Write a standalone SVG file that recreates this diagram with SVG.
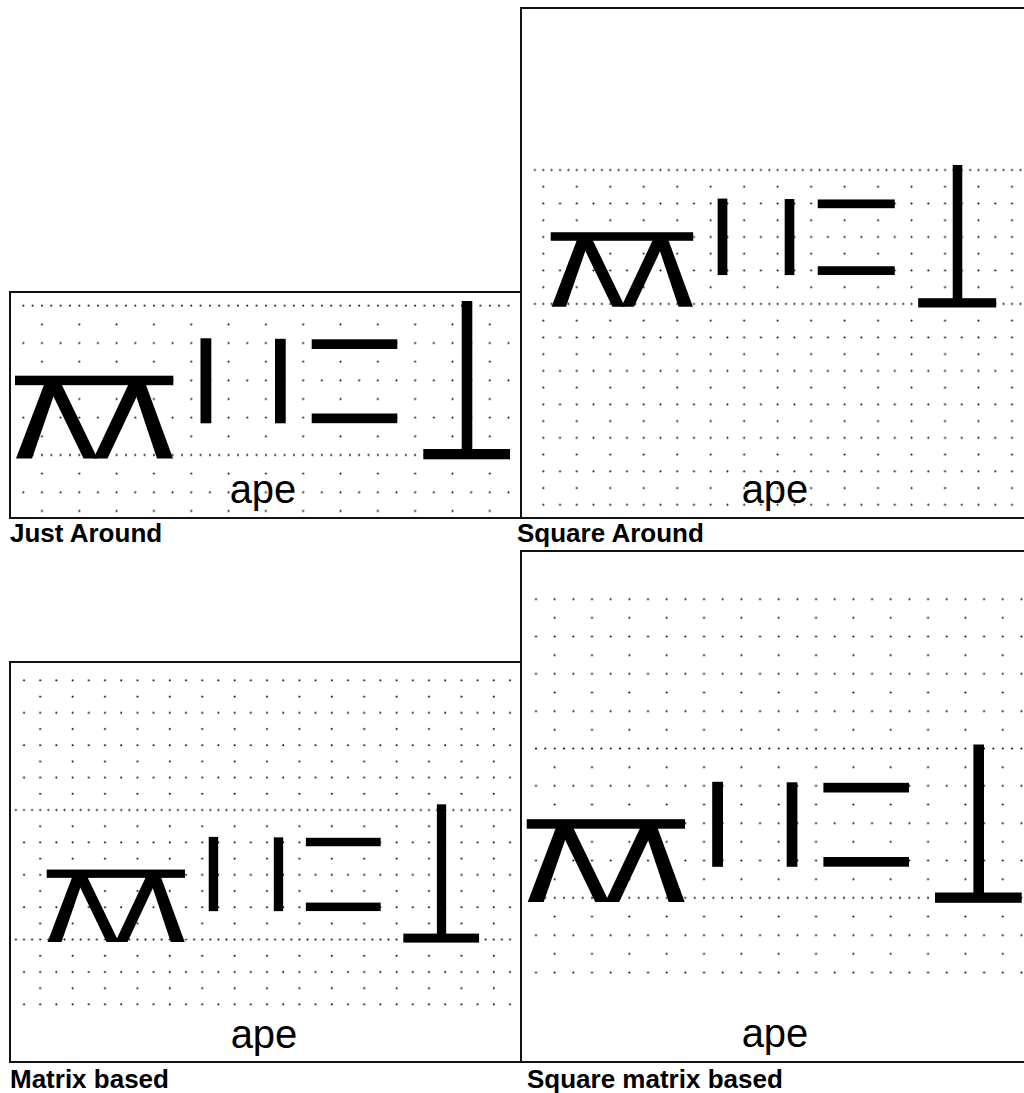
<svg xmlns="http://www.w3.org/2000/svg" xmlns:xlink="http://www.w3.org/1999/xlink" width="1024" height="1093" viewBox="0 0 1024 1093">
<style>
.box{fill:none;stroke:#111;stroke-width:2}
.lbl{font-family:"Liberation Sans",Arial,sans-serif;font-weight:bold;font-size:26px;fill:#000}
.ape{font-family:"Liberation Sans",Arial,sans-serif;font-size:40px;fill:#000;text-anchor:middle}
.dot{fill:#000}
</style>
<defs>
<pattern id="g1" patternUnits="userSpaceOnUse" x="13.97" y="296.37" width="37.32" height="37.32">
<circle class="dot" cx="9.33" cy="9.33" r="1"/><circle class="dot" cx="27.99" cy="9.33" r="1"/><circle class="dot" cx="27.99" cy="27.99" r="1"/>
</pattern>
<pattern id="d1" patternUnits="userSpaceOnUse" x="18.635" y="296.37" width="9.33" height="18.66">
<circle class="dot" cx="4.665" cy="9.33" r="1"/>
</pattern>
<pattern id="g2" patternUnits="userSpaceOnUse" x="518.19" y="161.63" width="33.48" height="33.48">
<circle class="dot" cx="8.37" cy="8.37" r="1"/><circle class="dot" cx="25.11" cy="8.37" r="1"/><circle class="dot" cx="25.11" cy="25.11" r="1"/>
</pattern>
<pattern id="d2" patternUnits="userSpaceOnUse" x="539.115" y="161.63" width="8.37" height="16.74">
<circle class="dot" cx="4.185" cy="8.37" r="1"/>
</pattern>
<pattern id="g3" patternUnits="userSpaceOnUse" x="15.9" y="801.9" width="32.4" height="32.4">
<circle class="dot" cx="8.1" cy="8.1" r="1"/><circle class="dot" cx="24.3" cy="8.1" r="1"/><circle class="dot" cx="24.3" cy="24.3" r="1"/>
</pattern>
<pattern id="d3" patternUnits="userSpaceOnUse" x="19.95" y="801.9" width="8.1" height="16.2">
<circle class="dot" cx="4.05" cy="8.1" r="1"/>
</pattern>
<pattern id="g4" patternUnits="userSpaceOnUse" x="526.665" y="739.165" width="37.34" height="37.34">
<circle class="dot" cx="9.335" cy="9.335" r="1"/><circle class="dot" cx="28.005" cy="9.335" r="1"/><circle class="dot" cx="28.005" cy="28.005" r="1"/>
</pattern>
<pattern id="d4" patternUnits="userSpaceOnUse" x="531.33" y="739.165" width="9.335" height="18.67">
<circle class="dot" cx="4.6675" cy="9.335" r="1"/>
</pattern>
<g id="glyph" fill="#000">
<rect x="15" y="375.7" width="158.3" height="9.5"/>
<polygon points="45.8,380 59.2,380 32,458.5 16,458.5"/>
<polygon points="45.5,380 59.5,380 97.5,458.5 83.5,458.5"/>
<polygon points="130.5,380 144.5,380 107.5,458.5 93.5,458.5"/>
<polygon points="130.8,380 144.2,380 173,458.5 157,458.5"/>
<rect x="200.5" y="338.3" width="10.8" height="85"/>
<rect x="275" y="338.8" width="10.7" height="84.5"/>
<rect x="311.7" y="339.3" width="85.6" height="9.7"/>
<rect x="311.7" y="413.5" width="85.6" height="9.7"/>
<rect x="461.7" y="301" width="10.6" height="152"/>
<rect x="423.3" y="449" width="86.7" height="10.3"/>
</g>
</defs>

<g id="panel-just-around">
<rect x="13.97" y="315.03" width="503.8" height="130.62" fill="url(#g1)"/>
<rect x="13.97" y="464.31" width="503.8" height="53" fill="url(#g1)"/>
<rect x="21.3" y="303.7" width="490.2" height="4" fill="url(#d1)"/>
<rect x="21.3" y="453" width="490.2" height="4" fill="url(#d1)"/>
<use xlink:href="#glyph"/>
<text class="ape" x="263" y="503">ape</text>
<rect class="box" x="10" y="292" width="511" height="226"/>
<text class="lbl" x="10" y="542">Just Around</text>
</g>

<g id="panel-square-around">
<rect x="534.93" y="178.37" width="489.07" height="117.18" fill="url(#g2)"/>
<rect x="534.93" y="312.29" width="489.07" height="200.88" fill="url(#g2)"/>
<rect x="533" y="168" width="491" height="4" fill="url(#d2)"/>
<rect x="533" y="301.92" width="491" height="4" fill="url(#d2)"/>
<use xlink:href="#glyph" transform="translate(537.2,-105.9) scale(0.9)"/>
<text class="ape" x="775" y="503">ape</text>
<rect class="box" x="521" y="8" width="510" height="510"/>
<text class="lbl" x="517" y="542">Square Around</text>
</g>

<g id="panel-matrix-based">
<rect x="15.9" y="672.3" width="502.2" height="129.6" fill="url(#g3)"/>
<rect x="15.9" y="818.1" width="502.2" height="113.4" fill="url(#g3)"/>
<rect x="15.9" y="947.7" width="502.2" height="64.8" fill="url(#g3)"/>
<rect x="13.9" y="808" width="498" height="4" fill="url(#d3)"/>
<rect x="13.9" y="937.6" width="498" height="4" fill="url(#d3)"/>
<use xlink:href="#glyph" transform="translate(33.6,541.4) scale(0.8735)"/>
<text class="ape" x="264" y="1048">ape</text>
<rect class="box" x="10" y="662" width="511" height="400"/>
<text class="lbl" x="10" y="1088">Matrix based</text>
</g>

<g id="panel-square-matrix-based">
<rect x="526.665" y="589.8" width="497.335" height="149.37" fill="url(#g4)"/>
<rect x="526.665" y="757.835" width="497.335" height="130.69" fill="url(#g4)"/>
<rect x="526.665" y="907.195" width="497.335" height="74.68" fill="url(#g4)"/>
<rect x="534" y="746.5" width="490" height="4" fill="url(#d4)"/>
<rect x="534" y="895.86" width="490" height="4" fill="url(#d4)"/>
<use xlink:href="#glyph" transform="translate(511.7,443.5)"/>
<text class="ape" x="775" y="1047">ape</text>
<rect class="box" x="521" y="551" width="510" height="511"/>
<text class="lbl" x="527" y="1088">Square matrix based</text>
</g>
</svg>
